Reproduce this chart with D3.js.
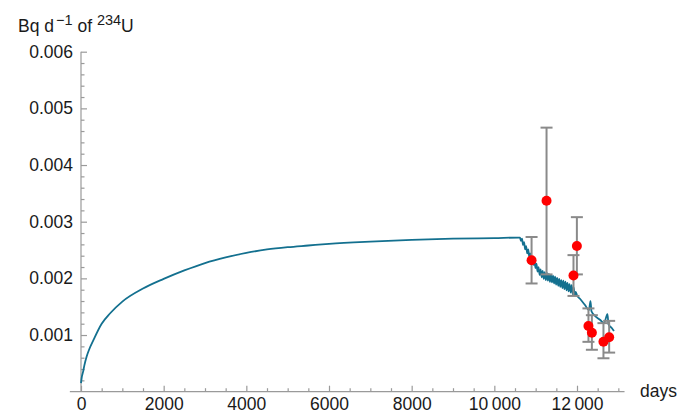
<!DOCTYPE html>
<html>
<head>
<meta charset="utf-8">
<script src="https://cdn.jsdelivr.net/npm/d3@7"></script>
<style>
  html, body { margin: 0; padding: 0; background: #fff; }
  svg { display: block; }
</style>
</head>
<body>
<svg id="chart" width="691" height="414"></svg>
<script>
// ---- Model curve (days, Bq/d of 234U) ----
const modelDays = [0, 20, 50, 80, 137, 200, 300, 500, 700, 1000, 1500, 2000, 2500, 3000, 3500, 4000, 4500, 5000, 5500, 6000, 7000, 8000, 9000, 10000, 10600,
  10620, 10645, 10670, 10695, 10720, 10745, 10770, 10795, 10820, 10845, 10870, 10895, 10920, 10945, 10970, 10995,
  11020, 11045, 11070, 11095, 11120, 11145, 11170, 11195, 11220, 11245, 11270, 11295, 11320, 11345, 11370, 11395,
  11420, 11445, 11470, 11495, 11520, 11545, 11570, 11595, 11620, 11645, 11670, 11695, 11720, 11745, 11770, 11795,
  11820, 11845, 11870, 11895, 11920, 11945, 11970, 12000,
  12072, 12193, 12289, 12326, 12350, 12435, 12556, 12653, 12737, 12762, 12846, 12895];
const modelValues = [0.00015, 0.00026, 0.00035, 0.00046, 0.00062, 0.00075, 0.00091, 0.00120, 0.00138, 0.00159, 0.00182, 0.00199, 0.00214, 0.00227, 0.00237, 0.00245, 0.00251, 0.00255, 0.00258, 0.00261, 0.00265, 0.00268, 0.00270, 0.00271, 0.00272,
  0.00272, 0.00266, 0.00270, 0.00259, 0.00264, 0.00251, 0.00257, 0.00244, 0.00251, 0.00238, 0.00244, 0.00230, 0.00238, 0.00224, 0.00232, 0.00218,
  0.00226, 0.00212, 0.00220, 0.00206, 0.00216, 0.00202, 0.00213, 0.00199, 0.00211, 0.00197, 0.00210, 0.00196, 0.00208, 0.00194, 0.00206, 0.00193,
  0.00205, 0.00191, 0.00203, 0.00189, 0.00201, 0.00187, 0.00199, 0.00185, 0.00197, 0.00183, 0.00196, 0.00181, 0.00194, 0.00179, 0.00192, 0.00177,
  0.00190, 0.00175, 0.00188, 0.00172, 0.00184, 0.00170, 0.00176, 0.00170,
  0.00164, 0.00153, 0.00144, 0.00160, 0.00142, 0.00134, 0.00127, 0.00121, 0.00137, 0.00119, 0.00112, 0.00107];

// ---- Measurements with error bars ----
const measDays   = [10901, 11263, 11915, 11997, 12277, 12360, 12640, 12778];
const measValues = [0.00232, 0.00337, 0.00205, 0.00257, 0.00116, 0.00104, 0.00088, 0.00096];
const measLow    = [0.00191, 0.00207, 0.00169, 0.00207, 0.00088, 0.00074, 0.00059, 0.00069];
const measHigh   = [0.00273, 0.00466, 0.00241, 0.00308, 0.00147, 0.00135, 0.00121, 0.00125];

// ---- Ticks ----
const xTicks = [0, 2000, 4000, 6000, 8000, 10000, 12000];
const yTicks = [0.001, 0.002, 0.003, 0.004, 0.005, 0.006];

const svg = d3.select("#chart");
const FONT = "Liberation Sans, Arial, sans-serif";
const AXIS = "#9a9a9a";
const TEXT = "#1a1a1a";

const x = d3.scaleLinear().domain([0, 12000]).range([81, 577]);
const y = d3.scaleLinear().domain([0, 0.006]).range([391.7, 51.7]);

const xMinor = d3.range(0, 13001, 500).filter(v => v % 2000 !== 0);
const yMinor = d3.range(1, 30).map(i => i * 0.0002).filter(v => Math.abs(v * 1000 - Math.round(v * 1000)) > 1e-6);

const fmtX = d => d >= 10000 ? d3.format(",")(d).replace(",", "\u2009") : String(d);

// x axis line
svg.append("line")
  .attr("x1", x(-270)).attr("x2", x(13150))
  .attr("y1", y(0)).attr("y2", y(0))
  .attr("stroke", AXIS).attr("stroke-width", 1.2);
// y axis line
svg.append("line")
  .attr("x1", x(0)).attr("x2", x(0))
  .attr("y1", y(0)).attr("y2", y(0.006))
  .attr("stroke", AXIS).attr("stroke-width", 1.2);

// x major ticks
const gx = svg.append("g").attr("transform", `translate(0,${y(0)})`)
  .call(d3.axisBottom(x).tickValues(xTicks).tickSize(-6).tickPadding(6).tickFormat(fmtX));
gx.select(".domain").remove();
gx.selectAll(".tick line").attr("stroke", AXIS).attr("stroke-width", 1.2);
gx.selectAll(".tick text").attr("fill", TEXT).attr("font-family", FONT).attr("font-size", 17.5);

// x minor ticks
const gxm = svg.append("g").attr("transform", `translate(0,${y(0)})`)
  .call(d3.axisBottom(x).tickValues(xMinor).tickSize(-3.5).tickFormat(""));
gxm.select(".domain").remove();
gxm.selectAll(".tick line").attr("stroke", AXIS).attr("stroke-width", 1.2);

// y major ticks
const gy = svg.append("g").attr("transform", `translate(${x(0)},0)`)
  .call(d3.axisLeft(y).tickValues(yTicks).tickSize(-6).tickPadding(8).tickFormat(d3.format(".3f")));
gy.select(".domain").remove();
gy.selectAll(".tick line").attr("stroke", AXIS).attr("stroke-width", 1.2);
gy.selectAll(".tick text").attr("fill", TEXT).attr("font-family", FONT).attr("font-size", 17.5);

// y minor ticks
const gym = svg.append("g").attr("transform", `translate(${x(0)},0)`)
  .call(d3.axisLeft(y).tickValues(yMinor).tickSize(-3.5).tickFormat(""));
gym.select(".domain").remove();
gym.selectAll(".tick line").attr("stroke", AXIS).attr("stroke-width", 1.2);

// model line
const modelData = modelDays.map((d, i) => [d, modelValues[i]]);
svg.append("path")
  .datum(modelData)
  .attr("fill", "none")
  .attr("stroke", "#13708f")
  .attr("stroke-width", 1.8)
  .attr("stroke-linejoin", "round")
  .attr("d", d3.line().x(d => x(d[0])).y(d => y(d[1])).curve(d3.curveMonotoneX));

// error bars
const meas = measDays.map((d, i) => ({ d, v: measValues[i], lo: measLow[i], hi: measHigh[i] }));
const eb = svg.append("g").attr("stroke", "#8a8a8a").attr("stroke-width", 2);
meas.forEach(m => {
  eb.append("line").attr("x1", x(m.d)).attr("x2", x(m.d)).attr("y1", y(m.lo)).attr("y2", y(m.hi));
  eb.append("line").attr("x1", x(m.d) - 6).attr("x2", x(m.d) + 6).attr("y1", y(m.lo)).attr("y2", y(m.lo));
  eb.append("line").attr("x1", x(m.d) - 6).attr("x2", x(m.d) + 6).attr("y1", y(m.hi)).attr("y2", y(m.hi));
});

// points
svg.append("g").selectAll("circle").data(meas).join("circle")
  .attr("cx", m => x(m.d)).attr("cy", m => y(m.v)).attr("r", 5)
  .attr("fill", "#ff0000");

// axis labels
svg.append("text").attr("x", 640).attr("y", 397)
  .attr("font-family", FONT).attr("font-size", 17.5).attr("fill", TEXT).text("days");

const title = svg.append("text").attr("x", 18).attr("y", 31.5)
  .attr("font-family", FONT).attr("font-size", 17.5).attr("fill", TEXT);
title.append("tspan").text("Bq d");
title.append("tspan").attr("dx", 2).attr("dy", -6.5).attr("font-size", 14.5).text("\u22121");
title.append("tspan").attr("dy", 6.5).text(" of ");
title.append("tspan").attr("dy", -6.5).attr("font-size", 14.5).text("234");
title.append("tspan").attr("dy", 6.5).text("U");
</script>
</body>
</html>
